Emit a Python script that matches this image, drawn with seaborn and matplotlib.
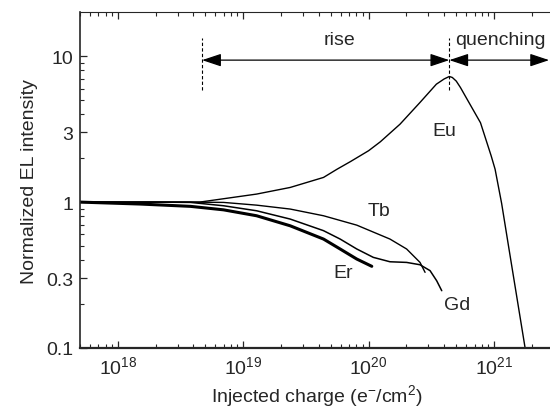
import numpy as np
import pandas as pd
import matplotlib
matplotlib.use("Agg")
import matplotlib.pyplot as plt
from matplotlib.ticker import FixedLocator, FixedFormatter, LogLocator, NullFormatter
import seaborn as sns

# ---- data ----
eu_x = [5e17, 2e18, 4.5e18, 1.28e19, 2.37e19, 4.37e19, 5.6e19, 7.2e19, 1.0e20, 1.24e20, 1.78e20,
        2.57e20, 3.47e20, 4.0e20, 4.4e20, 4.65e20, 5.0e20, 5.4e20, 6.0e20, 7.8e20, 9.5e20,
        1.02e21, 1.15e21, 1.31e21, 1.77e21, 2.2e21]
eu_y = [1.0, 1.0, 1.0, 1.135, 1.26, 1.476, 1.68, 1.9, 2.25, 2.59, 3.42,
        4.82, 6.43, 6.98, 7.26, 7.15, 6.75, 6.1, 5.2, 3.5, 2.07,
        1.68, 0.98, 0.49, 0.10, 0.04]

tb_x = [5e17, 2e18, 3.8e18, 6.97e18, 1.28e19, 2.37e19, 4.37e19, 8.05e19, 1.48e20, 2.01e20,
        2.57e20, 2.82e20]
tb_y = [1.0, 1.0, 1.0, 0.995, 0.953, 0.896, 0.806, 0.695, 0.558, 0.477,
        0.386, 0.33]

gd_x = [5e17, 2e18, 3.8e18, 6.97e18, 1.28e19, 2.37e19, 4.37e19, 5.93e19, 8.05e19, 1.09e20,
        1.48e20, 2.01e20, 2.57e20, 3.09e20, 3.49e20, 3.83e20]
gd_y = [1.0, 1.0, 0.995, 0.944, 0.872, 0.765, 0.637, 0.558, 0.477, 0.418,
        0.39, 0.386, 0.372, 0.339, 0.289, 0.247]

er_x = [5e17, 1.5e18, 3.8e18, 6.97e18, 1.28e19, 2.37e19, 4.37e19, 5.93e19, 8.05e19, 1.06e20]
er_y = [1.0, 0.97, 0.935, 0.885, 0.806, 0.688, 0.558, 0.477, 0.407, 0.363]

y_ticks = [0.1, 0.3, 1, 3, 10]
y_tick_labels = ["0.1", "0.3", "1", "3", "10"]

sns.set_style("ticks")
plt.rcParams['font.family'] = ['Liberation Sans', 'DejaVu Sans']
plt.rcParams['mathtext.fontset'] = 'custom'
plt.rcParams['mathtext.rm'] = 'Liberation Sans'
plt.rcParams['mathtext.it'] = 'Liberation Sans:italic'

FS = 14
fig = plt.figure(figsize=(5.5, 4.1), dpi=100)
ax = fig.add_axes([0.1455, 0.1488, 1.007 - 0.1455, 0.9676 - 0.1488])

def frame(x, y):
    return pd.DataFrame({"x": x, "y": y})

for x, y, lw in [(eu_x, eu_y, 1.0), (tb_x, tb_y, 1.0), (gd_x, gd_y, 1.1), (er_x, er_y, 2.2)]:
    sns.lineplot(data=frame(x, y), x="x", y="y", ax=ax, color="black", lw=lw,
                 sort=False, estimator=None)

ax.set_xscale("log")
ax.set_yscale("log")
ax.set_xlim(5e17, 3e21)
ax.set_ylim(0.1, 20)

ax.yaxis.set_major_locator(FixedLocator(y_ticks))
ax.yaxis.set_major_formatter(FixedFormatter(y_tick_labels))
ax.yaxis.set_minor_locator(FixedLocator([0.2, 0.4, 0.5, 0.6, 0.7, 0.8, 0.9, 2, 4, 5, 6, 7, 8, 9]))
ax.yaxis.set_minor_formatter(NullFormatter())
ax.xaxis.set_minor_locator(LogLocator(base=10, subs=np.arange(2, 10), numticks=20))
ax.xaxis.set_minor_formatter(NullFormatter())

ax.tick_params(which="both", direction="in", top=True, right=False, labelsize=FS, pad=5)
ax.tick_params(which="major", length=5, width=0.9)
ax.tick_params(which="minor", length=3, width=0.8)
ax.spines["bottom"].set_linewidth(1.6)
ax.spines["left"].set_linewidth(1.2)
ax.spines["top"].set_linewidth(0.8)
ax.spines["right"].set_linewidth(0.8)

ax.set_xlabel("Injected charge (e$^{-}$/cm$^{2}$)", fontsize=FS, labelpad=4)
ax.set_ylabel("Normalized EL intensity", fontsize=FS, labelpad=6)

# annotations
x_start, x_peak, x_end = 4.7e18, 4.4e20, 2.75e21
y_arrow = 9.4
for xv in (x_start, x_peak):
    ax.plot([xv, xv], [5.9, 13.3], color="black", lw=0.8, ls=(0, (3, 2)))
aprops = dict(arrowstyle="<|-|>,head_length=0.9,head_width=0.3", color="black", lw=0.9,
              mutation_scale=13, shrinkA=0, shrinkB=0)
ax.annotate("", xy=(x_peak, y_arrow), xytext=(x_start, y_arrow), arrowprops=aprops)
ax.annotate("", xy=(x_end, y_arrow), xytext=(x_peak, y_arrow), arrowprops=aprops)
ax.text(5.9e19, 13.0, "rise", fontsize=FS, ha="center", va="center")
ax.text(1.12e21, 13.0, "quenching", fontsize=FS, ha="center", va="center")

ax.text(4.0e20, 3.08, "Eu", fontsize=FS, ha="center", va="center")
ax.text(1.2e20, 0.88, "Tb", fontsize=FS, ha="center", va="center")
ax.text(6.3e19, 0.327, "Er", fontsize=FS, ha="center", va="center")
ax.text(5.1e20, 0.2, "Gd", fontsize=FS, ha="center", va="center")

fig.savefig("out.png", dpi=100)
